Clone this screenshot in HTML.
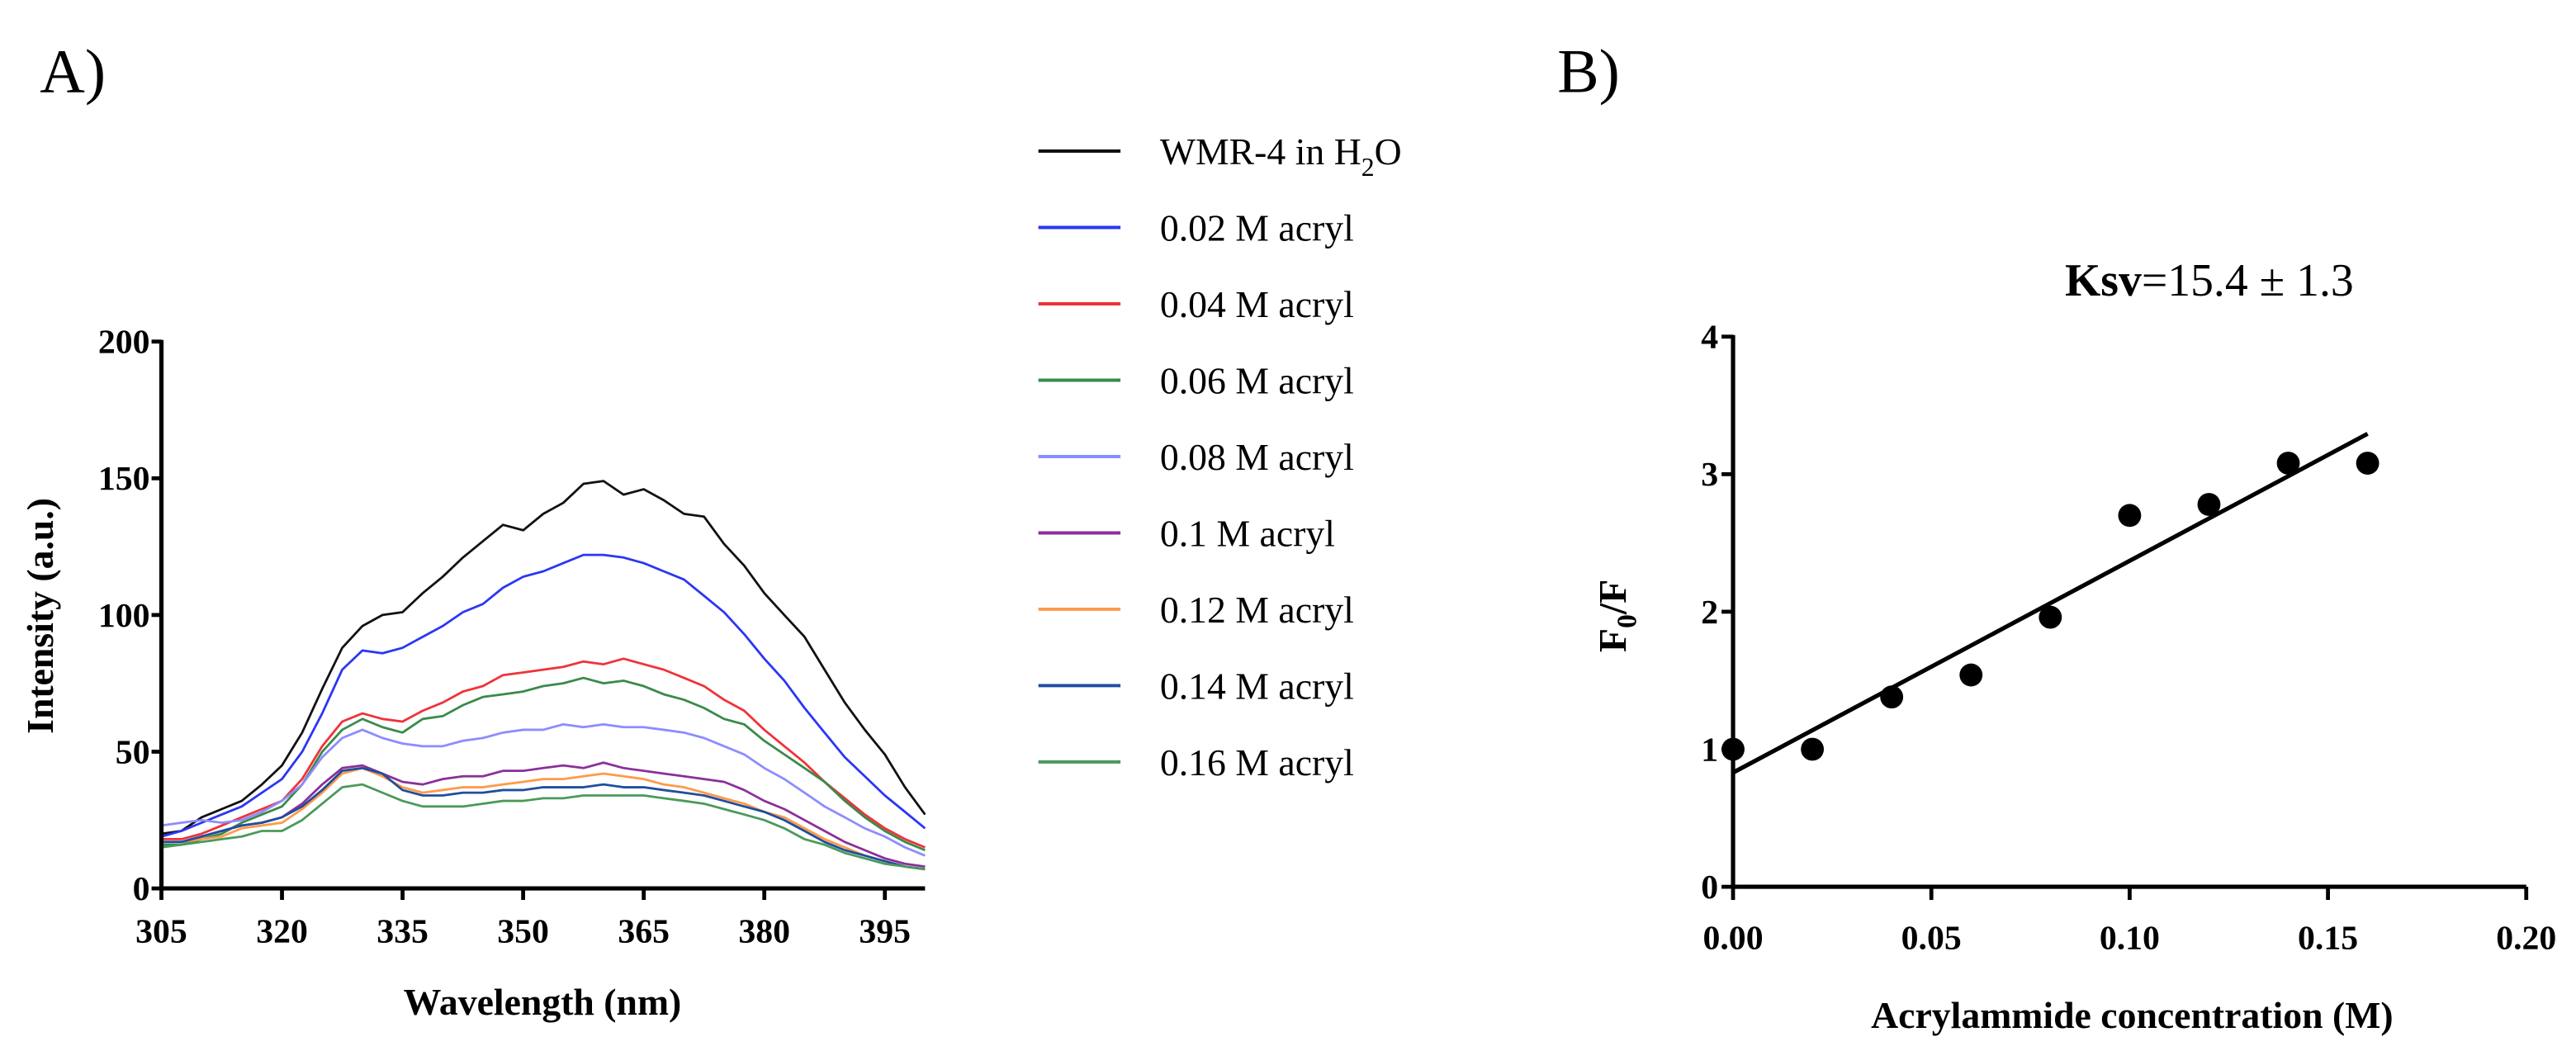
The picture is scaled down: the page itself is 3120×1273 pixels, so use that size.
<!DOCTYPE html>
<html><head><meta charset="utf-8"><style>
html,body{margin:0;padding:0;background:#fff;}
svg{display:block;}
text{font-family:"Liberation Serif",serif;}
</style></head><body>
<svg id="fig" width="3120" height="1273" viewBox="0 0 1568 640" xmlns="http://www.w3.org/2000/svg">
<text x="24" y="56" font-size="38">A)</text>
<text x="948" y="56" font-size="38">B)</text>
<g id="ga"></g>
<g id="leg"></g>
<g id="gb"></g>
</svg>
<script>
const wl=[305,307.5,310,312.5,315,317.5,320,322.5,325,327.5,330,332.5,335,337.5,340,342.5,345,347.5,350,352.5,355,357.5,360,362.5,365,367.5,370,372.5,375,377.5,380,382.5,385,387.5,390,392.5,395,397.5,400];
const sH2O=[20,21,26,29,32,38,45,57,73,88,96,100,101,108,114,121,127,133,131,137,141,148,149,144,146,142,137,136,126,118,108,100,92,80,68,58,49,37,27];
const s002=[19,21,24,27,30,35,40,50,64,80,87,86,88,92,96,101,104,110,114,116,119,122,122,121,119,116,113,107,101,93,84,76,66,57,48,41,34,28,22];
const s004=[18,18,20,23,26,29,32,40,52,61,64,62,61,65,68,72,74,78,79,80,81,83,82,84,82,80,77,74,69,65,58,52,46,39,33,27,22,18,15];
const s006=[16,16,18,20,24,27,30,38,50,58,62,59,57,62,63,67,70,71,72,74,75,77,75,76,74,71,69,66,62,60,54,49,44,39,32,26,21,17,14];
const s008=[23,24,25,24,25,28,32,38,48,55,58,55,53,52,52,54,55,57,58,58,60,59,60,59,59,58,57,55,52,49,44,40,35,30,26,22,19,15,12];
const s010=[17,17,19,21,23,24,26,31,38,44,45,42,39,38,40,41,41,43,43,44,45,44,46,44,43,42,41,40,39,36,32,29,25,21,17,14,11,9,8];
const s012=[17,17,18,19,22,23,24,29,35,42,44,41,37,35,36,37,37,38,39,40,40,41,42,41,40,38,37,35,33,31,28,26,22,18,15,12,10,8,7];
const s014=[17,17,19,21,23,24,26,30,36,43,44,42,36,34,34,35,35,36,36,37,37,37,38,37,37,36,35,34,32,30,28,25,21,17,14,12,10,8,7];
const s016=[15,16,17,18,19,21,21,25,31,37,38,35,32,30,30,30,31,32,32,33,33,34,34,34,34,33,32,31,29,27,25,22,18,16,13,11,9,8,7];
const seriesNames=["WMR-4 in H2O","0.02 M acryl","0.04 M acryl","0.06 M acryl","0.08 M acryl","0.1 M acryl","0.12 M acryl","0.14 M acryl","0.16 M acryl"];
const seriesColors=["#111111","#2b36f5","#f0323a","#3a8a4a","#8c8cff","#8b2f9a","#ff9a4a","#1f4e9e","#4a9a5a"];
const seriesData=[sH2O,s002,s004,s006,s008,s010,s012,s014,s016];
const xTicksA=[305,320,335,350,365,380,395];
const yTicksA=[0,50,100,150,200];
const conc=[0,0.02,0.04,0.06,0.08,0.10,0.12,0.14,0.16];
const f0f=[1.0,1.0,1.38,1.54,1.96,2.7,2.78,3.08,3.08];
const fitIntercept=[0.83];
const fitSlope=[15.4];
const xTicksB=[0,0.05,0.10,0.15,0.20];
const yTicksB=[0,1,2,3,4];

const NS="http://www.w3.org/2000/svg";
function mk(tag,attrs,parent,txt){const e=document.createElementNS(NS,tag);for(const k in attrs)e.setAttribute(k,attrs[k]);if(txt!==undefined)e.textContent=txt;parent.appendChild(e);return e;}

// Panel A
const ga=document.getElementById('ga');
const AX0=98,AX1=563,AY0=541,AY1=208;
const xA=v=>AX0+(v-305)/(400-305)*(AX1-AX0);
const yA=v=>AY0-(v/200)*(AY0-AY1);
seriesData.forEach((d,i)=>{
  const pts=d.map((v,j)=>xA(wl[j]).toFixed(1)+','+yA(v).toFixed(1)).join(' ');
  const p=mk('polyline',{points:pts,fill:'none',stroke:seriesColors[i],'stroke-width':1.4,'stroke-linejoin':'round'},ga);
  
  
});
let l=mk('line',{x1:AX0,y1:AY1-1,x2:AX0,y2:AY0+1,stroke:'#000','stroke-width':2.6},ga);

l=mk('line',{x1:AX0-1,y1:AY0,x2:AX1,y2:AY0,stroke:'#000','stroke-width':2.6},ga);

yTicksA.forEach(v=>{
  mk('line',{x1:AX0-6,y1:yA(v),x2:AX0,y2:yA(v),stroke:'#000','stroke-width':2.4},ga);
  const t=mk('text',{x:AX0-7,y:yA(v)+7,'font-size':21,'font-weight':'bold','text-anchor':'end'},ga,String(v));
  
});
xTicksA.forEach(v=>{
  mk('line',{x1:xA(v),y1:AY0,x2:xA(v),y2:AY0+7,stroke:'#000','stroke-width':2.4},ga);
  const t=mk('text',{x:xA(v),y:AY0+33,'font-size':21,'font-weight':'bold','text-anchor':'middle'},ga,String(v));
  
});
let t=mk('text',{x:330,y:618,'font-size':23,'font-weight':'bold','text-anchor':'middle'},ga,'Wavelength (nm)');

t=mk('text',{x:0,y:0,'font-size':23,'font-weight':'bold','text-anchor':'middle',transform:'translate(32,375) rotate(-90)'},ga,'Intensity (a.u.)');


// Legend
const leg=document.getElementById('leg');
seriesNames.forEach((n,i)=>{
  const y=92+i*46.5;
  const ln=mk('line',{x1:632,y1:y,x2:682,y2:y,stroke:seriesColors[i],'stroke-width':2},leg);
  
  let tx;
  if(i===0){
    tx=mk('text',{x:706,y:y+8,'font-size':23},leg);
    tx.appendChild(document.createTextNode('WMR-4 in H'));
    mk('tspan',{dy:7,'font-size':16},tx,'2');
    mk('tspan',{dy:-7},tx,'O');
  } else tx=mk('text',{x:706,y:y+8,'font-size':23},leg,n);
  
});

// Panel B
const gb=document.getElementById('gb');
const BX0=1055,BX1=1538,BY0=540,BY1=205;
const xB=v=>BX0+v/0.2*(BX1-BX0);
const yB=v=>BY0-v/4*(BY0-BY1);
l=mk('line',{x1:BX0,y1:BY1-1,x2:BX0,y2:BY0+1,stroke:'#000','stroke-width':2.6},gb);

l=mk('line',{x1:BX0-1,y1:BY0,x2:BX1,y2:BY0,stroke:'#000','stroke-width':2.6},gb);

yTicksB.forEach(v=>{
  mk('line',{x1:BX0-7,y1:yB(v),x2:BX0,y2:yB(v),stroke:'#000','stroke-width':2.4},gb);
  const tt=mk('text',{x:BX0-9,y:yB(v)+7,'font-size':21,'font-weight':'bold','text-anchor':'end'},gb,String(v));
  
});
xTicksB.forEach(v=>{
  mk('line',{x1:xB(v),y1:BY0,x2:xB(v),y2:BY0+8,stroke:'#000','stroke-width':2.4},gb);
  const tt=mk('text',{x:xB(v),y:BY0+38,'font-size':21,'font-weight':'bold','text-anchor':'middle'},gb,v.toFixed(2));
  
});
const fx=[0,conc[conc.length-1]];
l=mk('line',{x1:xB(fx[0]),y1:yB(fitIntercept[0]+fitSlope[0]*fx[0]),x2:xB(fx[1]),y2:yB(fitIntercept[0]+fitSlope[0]*fx[1]),stroke:'#000','stroke-width':2.6},gb);

conc.forEach((c,i)=>{
  const p=mk('circle',{cx:xB(c),cy:yB(f0f[i]),r:7,fill:'#000'},gb);
  
  
});
t=mk('text',{x:1298,y:626,'font-size':23,'font-weight':'bold','text-anchor':'middle'},gb,'Acrylammide concentration (M)');

t=mk('text',{x:0,y:0,'font-size':24,'font-weight':'bold','text-anchor':'middle',transform:'translate(990,375) rotate(-90)'},gb);
t.appendChild(document.createTextNode('F'));
mk('tspan',{dy:6,'font-size':17},t,'0');
mk('tspan',{dy:-6},t,'/F');

t=mk('text',{x:1345,y:180,'font-size':28,'text-anchor':'middle'},gb);
mk('tspan',{'font-weight':'bold'},t,'Ksv');
mk('tspan',{},t,'=15.4 ± 1.3');

</script>
</body></html>
